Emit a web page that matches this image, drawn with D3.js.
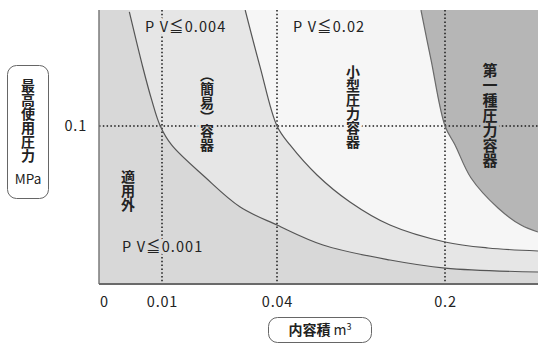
<!DOCTYPE html>
<html><head><meta charset="utf-8">
<script src="https://cdn.jsdelivr.net/npm/d3@7/dist/d3.min.js"></script>
<style>
html,body{margin:0;padding:0;background:#fff;}
svg{display:block;font-family:"Noto Sans CJK JP","Noto Sans",sans-serif;}
</style></head>
<body>
<script>
// ---- data ----
const volumeTicks = [0, 0.01, 0.04, 0.2];
const pressureTicks = [0.1];
const pvLabels = ["P V≦0.001", "P V≦0.004", "P V≦0.02"];
const regionNames = ["適用外", "（簡易）容器", "小型圧力容器", "第一種圧力容器"];
// boundary curves PV = 0.001, 0.004, 0.02 (volume m3, pressure MPa)
const curve1Volume   = [0.00437, 0.00667, 0.00822, 0.0097, 0.0125, 0.0212, 0.0303, 0.04, 0.0838, 0.1476, 0.2, 0.3];
const curve1Pressure = [0.1722, 0.1375, 0.1165, 0.1, 0.088, 0.0677, 0.0489, 0.0373, 0.0247, 0.0152, 0.0101, 0.0076];
const curve2Volume   = [0.0317, 0.0356, 0.04, 0.0524, 0.0781, 0.1095, 0.1476, 0.2, 0.2462, 0.3];
const curve2Pressure = [0.1734, 0.1373, 0.1, 0.088, 0.069, 0.0519, 0.0373, 0.0266, 0.0228, 0.0209];
const curve3Volume   = [0.1771, 0.1867, 0.2, 0.2108, 0.228, 0.257, 0.2817, 0.3];
const curve3Pressure = [0.1734, 0.1418, 0.1, 0.088, 0.0671, 0.0481, 0.0373, 0.0329];

const W = 538, H = 344;
const pL = 99, pR = 538, pT = 10, pB = 284;

const x = d3.scaleLinear().domain([0, 0.01, 0.04, 0.2, 0.3]).range([104, 162, 277, 445, 538]);
const y = d3.scaleLinear().domain([0, 0.1]).range([pB, 126]);
const pTop = y.invert(pT);

const svg = d3.select("body").append("svg").attr("width", W).attr("height", H);

const fills = ["#d8d8d8", "#e6e6e6", "#f6f6f6", "#b6b6b6"];
const curves = [
  d3.zip(curve1Volume, curve1Pressure),
  d3.zip(curve2Volume, curve2Pressure),
  d3.zip(curve3Volume, curve3Pressure)
];

svg.append("clipPath").attr("id", "plot").append("rect")
  .attr("x", pL).attr("y", pT).attr("width", pR - pL).attr("height", pB - pT);

const g = svg.append("g").attr("clip-path", "url(#plot)");
g.append("rect").attr("x", pL).attr("y", pT).attr("width", pR - pL).attr("height", pB - pT)
  .attr("fill", fills[0]);

const smooth = d3.curveCatmullRom.alpha(0.5);
const area = d3.area().x(d => x(d[0])).y0(y(pTop) - 2).y1(d => y(d[1])).curve(smooth);
const line = d3.line().x(d => x(d[0])).y(d => y(d[1])).curve(smooth);

curves.forEach((c, i) => {
  g.append("path").attr("d", area(c)).attr("fill", fills[i + 1]);
});

// dotted guide lines
const dot = { stroke: "#1a1a1a", width: 1.5, dash: "1.5 2.3" };
volumeTicks.filter(v => v > 0).forEach(v => {
  g.append("line").attr("x1", x(v)).attr("x2", x(v)).attr("y1", pT).attr("y2", pB)
    .attr("stroke", dot.stroke).attr("stroke-width", dot.width).attr("stroke-dasharray", dot.dash);
});
pressureTicks.forEach(p => {
  g.append("line").attr("x1", pL).attr("x2", pR).attr("y1", y(p)).attr("y2", y(p))
    .attr("stroke", dot.stroke).attr("stroke-width", dot.width).attr("stroke-dasharray", dot.dash);
});

curves.forEach((c, i) => {
  g.append("path").attr("d", line(c)).attr("fill", "none")
    .attr("stroke", i === 2 ? "#6a6a6a" : "#555").attr("stroke-width", 1.2);
});

// labels inside plot with halo
function halo(sel, col) {
  return sel.attr("stroke", col).attr("stroke-width", 6).attr("stroke-linejoin", "round")
    .attr("paint-order", "stroke").attr("fill", "#222");
}
const pvPos = [[122, 252, fills[0]], [145, 32, fills[1]], [293, 32, fills[2]]];
pvLabels.forEach((t, i) => {
  halo(svg.append("text").attr("x", pvPos[i][0]).attr("y", pvPos[i][1])
    .attr("font-size", 14.5).attr("letter-spacing", 1.1).text(t), pvPos[i][2]);
});

const vPos = [[128, 170, 14, fills[0]], [207, 68, 14, fills[1]], [353, 65, 14, fills[2]], [490, 63, 15, fills[3]]];
regionNames.forEach((t, i) => {
  halo(svg.append("text").attr("x", vPos[i][0]).attr("y", vPos[i][1])
    .attr("writing-mode", "vertical-rl").style("writing-mode", "vertical-rl")
    .attr("font-size", vPos[i][2]).attr("font-weight", 700).text(t), vPos[i][3]);
});

// axes
const xAxis = svg.append("g").attr("transform", `translate(0,${pB})`)
  .call(d3.axisBottom(x).tickValues(volumeTicks).tickSize(0).tickPadding(13).tickFormat(d => String(d)));
const yAxis = svg.append("g").attr("transform", `translate(${pL},0)`)
  .call(d3.axisLeft(y).tickValues(pressureTicks).tickSize(0).tickPadding(12).tickFormat(d => String(d)));
[xAxis, yAxis].forEach(a => {
  a.select(".domain").remove();
  a.attr("font-family", null).attr("font-size", null);
  a.selectAll("text").attr("font-size", 14.5).attr("fill", "#222").attr("letter-spacing", 0.8);
});
svg.append("line").attr("x1", pL).attr("x2", pL).attr("y1", pT).attr("y2", pB)
  .attr("stroke", "#7a7a7a").attr("stroke-width", 1.5);
svg.append("line").attr("x1", pL).attr("x2", pR).attr("y1", pB).attr("y2", pB)
  .attr("stroke", "#6a6a6a").attr("stroke-width", 2);

// axis title boxes
svg.append("rect").attr("x", 7.5).attr("y", 65.5).attr("width", 41).attr("height", 133).attr("rx", 9)
  .attr("fill", "#fff").attr("stroke", "#666").attr("stroke-width", 1);
svg.append("text").attr("x", 28).attr("y", 79).style("writing-mode", "vertical-rl").attr("writing-mode", "vertical-rl")
  .attr("font-size", 14).attr("font-weight", 700).attr("fill", "#222").text("最高使用圧力");
svg.append("text").attr("x", 28).attr("y", 184).attr("text-anchor", "middle")
  .attr("font-size", 13.5).attr("fill", "#222").text("MPa");

svg.append("rect").attr("x", 268.5).attr("y", 317.5).attr("width", 103).attr("height", 25).attr("rx", 9)
  .attr("fill", "#fff").attr("stroke", "#666").attr("stroke-width", 1);
const xt = svg.append("text").attr("x", 320).attr("y", 334.5).attr("text-anchor", "middle")
  .attr("font-size", 14).attr("fill", "#222");
xt.append("tspan").attr("font-weight", 700).text("内容積 ");
xt.append("tspan").text("m");
xt.append("tspan").attr("font-size", 9).attr("dy", -5).text("3");
</script>
</body></html>
